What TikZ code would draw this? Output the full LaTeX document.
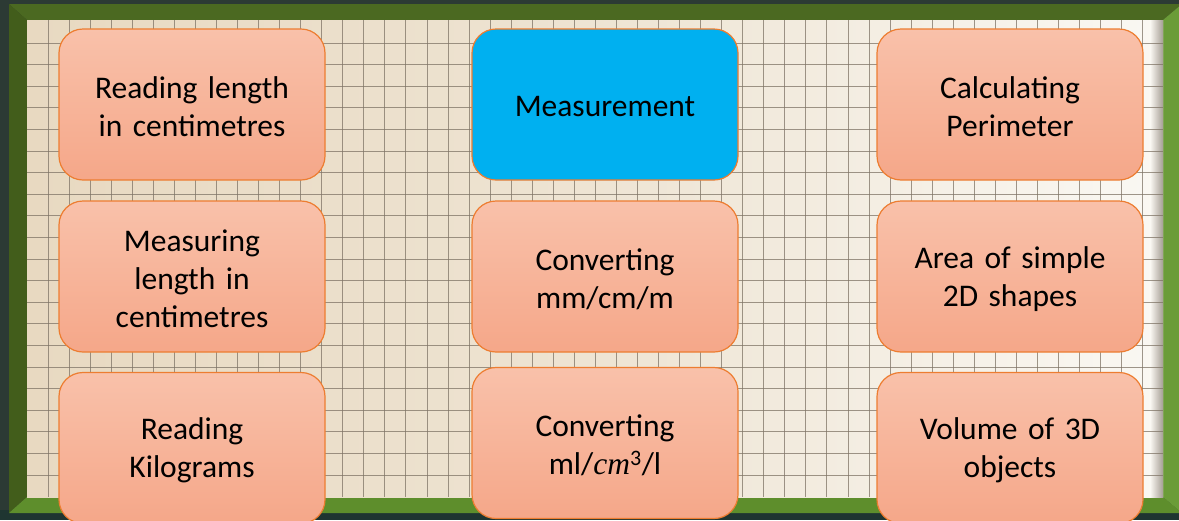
\documentclass[tikz,border=0pt]{standalone}
\usepackage{fontspec}
\setmainfont{Carlito}
\newfontfamily\cambriaish{Liberation Serif}
\newcommand\mytextshift{\par\vspace{-5pt}}
\definecolor{bgdark}{HTML}{2C3A34}
\definecolor{bgbot}{HTML}{1F3531}
\definecolor{frtop}{HTML}{4B6921}
\definecolor{frleft}{HTML}{425D1B}
\definecolor{frbot}{HTML}{5E8E2C}
\definecolor{frright}{HTML}{6B9C38}
\definecolor{paperL}{HTML}{E8D9C1}
\definecolor{paperM}{HTML}{EEE4D3}
\definecolor{paperR}{HTML}{FAF8F3}
\definecolor{gridc}{HTML}{7F7466}
\definecolor{salmonTop}{HTML}{F9C1AA}
\definecolor{salmonBot}{HTML}{F5A789}
\definecolor{boxline}{HTML}{ED7D31}
\definecolor{skyblue}{HTML}{00B0F0}
\begin{document}
\begin{tikzpicture}[x=1pt,y=-1pt,
  box/.style={draw=boxline, line width=1.2pt, rounded corners=24pt,
    minimum width=266pt, minimum height=151pt, align=center,
    font=\fontsize{31.5}{38}\selectfont, inner sep=0pt, text width=250pt,
    execute at end node={\mytextshift}},
  salmon/.style={box, top color=salmonTop, bottom color=salmonBot},
  central/.style={box, fill=skyblue},
  gridline/.style={draw=gridc, line width=0.9pt, opacity=0.75}]
\useasboundingbox (0,0) rectangle (1179,520);
% background
\fill[bgdark] (0,0) rectangle (1179,520);
\fill[bgbot] (0,510) rectangle (1179,520);
% frame
\fill[frtop] (9,4) -- (1182,4) -- (1163,20) -- (27,20) -- cycle;
\fill[frleft] (9,4) -- (27,20) -- (27,497) -- (9,513) -- cycle;
\fill[frbot] (9,513) -- (27,497) -- (1163,497) -- (1182,513) -- cycle;
\fill[frright] (1163,20) -- (1182,4) -- (1182,513) -- (1163,497) -- cycle;
% paper
\shade[left color=paperL, right color=paperR, middle color=paperM] (27,20) rectangle (1163,497);
\shade[left color=paperR, right color=gridc!70] (1150,20) rectangle (1163,497);
% grid
\begin{scope}
\clip (27,20) rectangle (1163,497);
\foreach \i in {1,...,53} {
  \draw[gridline] ({27+21.05*\i},20) -- ({27+21.05*\i},497);
}
\foreach \k in {1,...,21} {
  \draw[gridline] (27,{21.5+21.6*\k}) -- (1163,{21.5+21.6*\k});
}
\end{scope}
% boxes
\node[salmon] (l1) at (192,104.5) {Reading length\\in centimetres};
\node[central] (m1) at (605,104.5) {\raisebox{-3pt}{Measurement}};
\node[salmon] (r1) at (1010,104.5) {Calculating\\Perimeter};
\node[salmon] (l2) at (192,276.5) {Measuring\\length in\\centimetres};
\node[salmon] (m2) at (605,276.5) {Converting\\mm/cm/m};
\node[salmon] (r2) at (1010,276.5) {Area of simple\\2D shapes};
\node[salmon] (l3) at (192,448) {Reading\\Kilograms};
\node[salmon] (m3) at (605,443) {Converting\\ml/{\cambriaish\itshape cm}\textsuperscript{3}/l};
\node[salmon] (r3) at (1010,448) {Volume of 3D\\objects};
\end{tikzpicture}
\end{document}
